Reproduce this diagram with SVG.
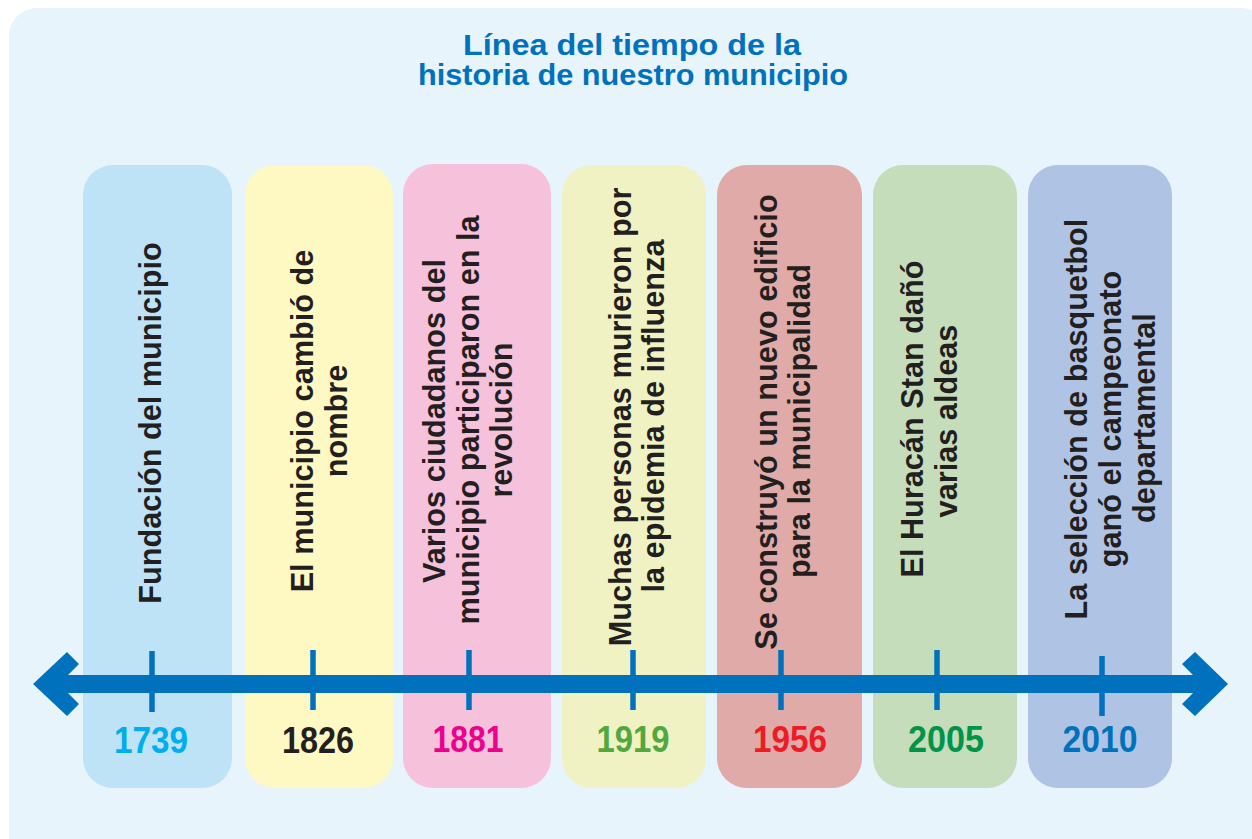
<svg xmlns="http://www.w3.org/2000/svg" width="1252" height="839" viewBox="0 0 1252 839">
  <style>
    .title { font-family: "Liberation Sans", Arial, sans-serif; font-weight: bold; font-size: 30px; fill: #0071BC; text-anchor: middle; }
    .ev { font-family: "Liberation Sans", Arial, sans-serif; font-weight: bold; font-size: 30.7px; fill: #231F20; text-anchor: middle; }
    .yr { font-family: "Liberation Sans", Arial, sans-serif; font-weight: bold; font-size: 37px; text-anchor: middle; }
    .tick { stroke: #0071BC; stroke-width: 5.5; }
  </style>
  <rect x="9" y="8" width="1260" height="860" rx="28" fill="#E7F4FB"/>
  <g id="title">
    <text class="title" x="632" y="55" textLength="338" lengthAdjust="spacingAndGlyphs">Línea del tiempo de la</text>
    <text class="title" x="633" y="85" textLength="430" lengthAdjust="spacingAndGlyphs">historia de nuestro municipio</text>
  </g>
  <g id="col-1739">
    <rect x="83" y="165" width="149" height="623" rx="30" fill="#BEE3F7"/>
    <text class="ev" transform="translate(161,423) rotate(-90)">Fundación del municipio</text>
    <text class="yr" x="151" y="753" fill="#00AEEF" textLength="74" lengthAdjust="spacingAndGlyphs">1739</text>
  </g>
  <g id="col-1826">
    <rect x="245" y="165" width="148" height="623" rx="30" fill="#FEF9C3"/>
    <text class="ev" transform="translate(313,421) rotate(-90)">El municipio cambió de</text>
    <text class="ev" transform="translate(347,421) rotate(-90)">nombre</text>
    <text class="yr" x="318" y="753" fill="#231F20" textLength="72" lengthAdjust="spacingAndGlyphs">1826</text>
  </g>
  <g id="col-1881">
    <rect x="403" y="164" width="148" height="624" rx="30" fill="#F6C1DA"/>
    <text class="ev" transform="translate(445,421) rotate(-90)">Varios ciudadanos del</text>
    <text class="ev" transform="translate(479,420) rotate(-90)">municipio participaron en la</text>
    <text class="ev" transform="translate(512,420) rotate(-90)">revolución</text>
    <text class="yr" x="468" y="752" fill="#EC008C" textLength="71" lengthAdjust="spacingAndGlyphs">1881</text>
  </g>
  <g id="col-1919">
    <rect x="562" y="165" width="144" height="623" rx="30" fill="#F0F2C3"/>
    <text class="ev" transform="translate(631,417) rotate(-90)">Muchas personas murieron por</text>
    <text class="ev" transform="translate(664,416) rotate(-90)">la epidemia de influenza</text>
    <text class="yr" x="633" y="752" fill="#50A83E" textLength="73" lengthAdjust="spacingAndGlyphs">1919</text>
  </g>
  <g id="col-1956">
    <rect x="717" y="165" width="145" height="623" rx="30" fill="#DFAAA7"/>
    <text class="ev" transform="translate(777,422) rotate(-90)">Se construyó un nuevo edificio</text>
    <text class="ev" transform="translate(810,421) rotate(-90)">para la municipalidad</text>
    <text class="yr" x="790" y="752" fill="#ED1C24" textLength="74" lengthAdjust="spacingAndGlyphs">1956</text>
  </g>
  <g id="col-2005">
    <rect x="873" y="165" width="144" height="623" rx="30" fill="#C5DDBA"/>
    <text class="ev" transform="translate(923,419) rotate(-90)">El Huracán Stan dañó</text>
    <text class="ev" transform="translate(957,421) rotate(-90)">varias aldeas</text>
    <text class="yr" x="946" y="752" fill="#00944A" textLength="76" lengthAdjust="spacingAndGlyphs">2005</text>
  </g>
  <g id="col-2010">
    <rect x="1028" y="165" width="144" height="623" rx="30" fill="#AFC4E5"/>
    <text class="ev" transform="translate(1087,419) rotate(-90)">La selección de basquetbol</text>
    <text class="ev" transform="translate(1121,419) rotate(-90)">ganó el campeonato</text>
    <text class="ev" transform="translate(1155,418) rotate(-90)">departamental</text>
    <text class="yr" x="1100" y="752" fill="#0072BC" textLength="75" lengthAdjust="spacingAndGlyphs">2010</text>
  </g>
  <g id="connectors">
    <polygon fill="#0071BC" points="33,684 67,652 79,664 68,675 1193,675 1182,664 1195,652 1228,684 1195,716 1182,704 1193,693 68,693 79,704 67,716"/>
    <line class="tick" x1="152" y1="651" x2="152" y2="712"/>
    <line class="tick" x1="313" y1="650" x2="313" y2="710"/>
    <line class="tick" x1="469" y1="650" x2="469" y2="710"/>
    <line class="tick" x1="633" y1="650" x2="633" y2="710"/>
    <line class="tick" x1="781" y1="650" x2="781" y2="710"/>
    <line class="tick" x1="937" y1="650" x2="937" y2="710"/>
    <line class="tick" x1="1102" y1="656" x2="1102" y2="716"/>
  </g>
</svg>
